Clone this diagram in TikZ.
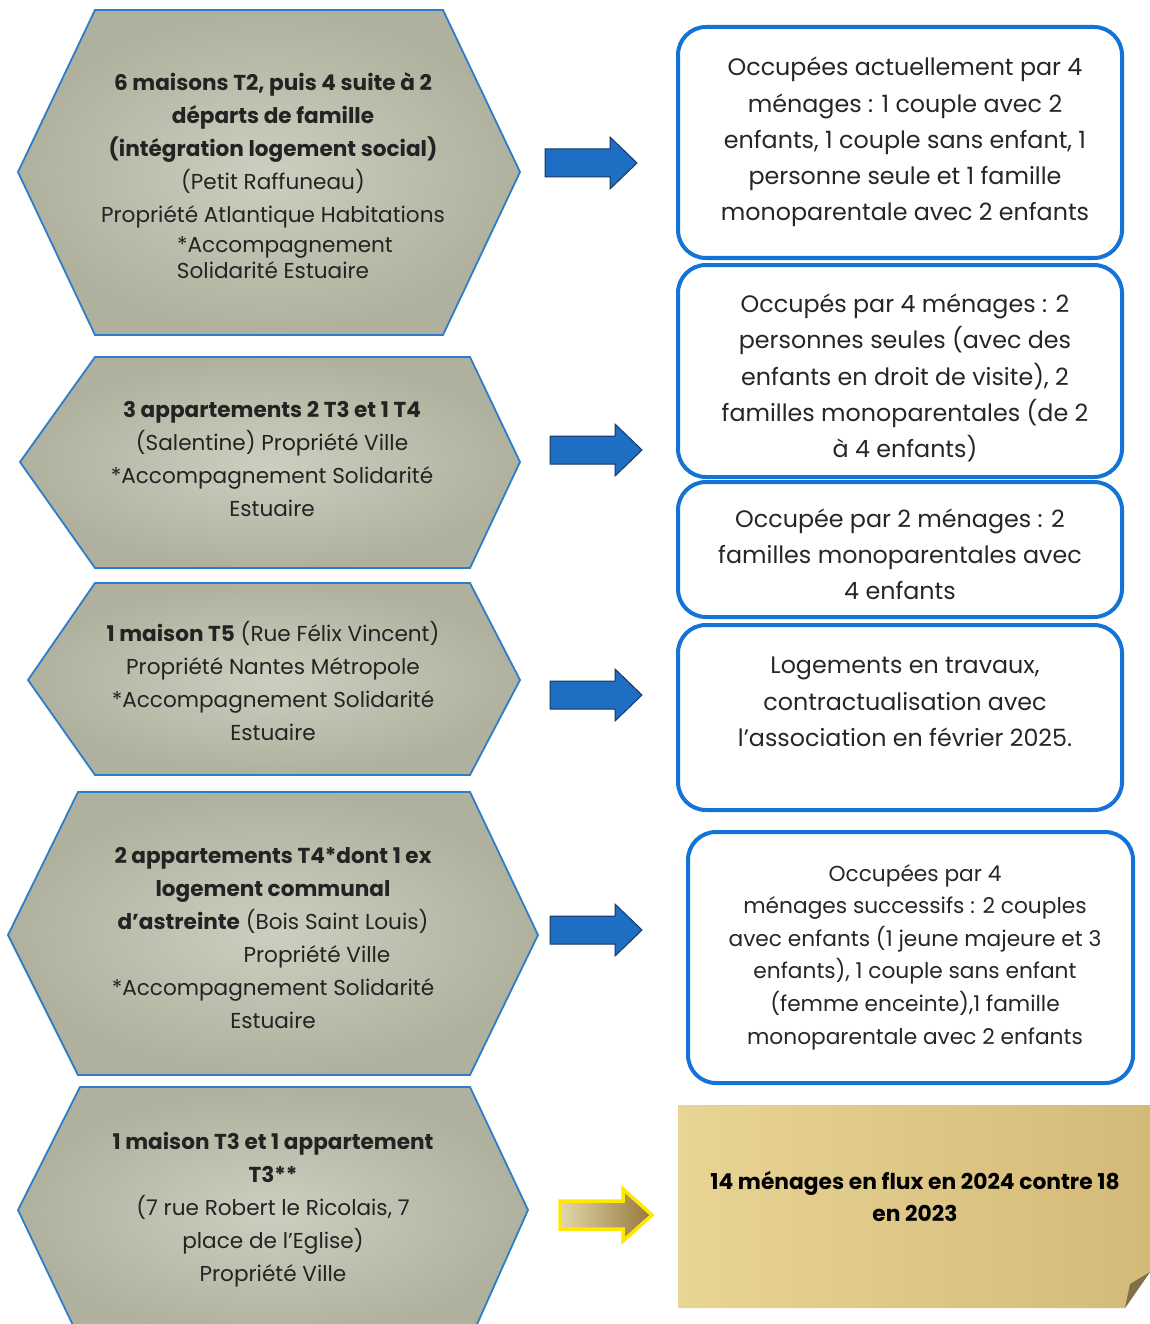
\documentclass[tikz,border=0pt]{standalone}
\usepackage{fontspec}
\setmainfont{Poppins}
\definecolor{hexborder}{RGB}{45,125,200}
\definecolor{hexin}{RGB}{206,206,192}
\definecolor{hexout}{RGB}{176,176,158}
\definecolor{boxborder}{RGB}{20,115,215}
\definecolor{arrowblue}{RGB}{30,110,195}
\definecolor{arrowdark}{RGB}{25,55,95}
\definecolor{goldA}{RGB}{232,212,148}
\definecolor{goldB}{RGB}{212,186,120}
\definecolor{ylw}{RGB}{255,232,0}
\definecolor{brownA}{RGB}{226,216,170}
\definecolor{brownB}{RGB}{150,118,60}
\definecolor{txt}{RGB}{35,35,35}
\tikzset{
  hexshape/.style={draw=hexborder, line width=1.8pt, inner color=hexin, outer color=hexout},
  hextext/.style={align=center, text=txt, font=\fontsize{21.6}{33}\selectfont, inner sep=0pt},
  roundbox/.style={draw=boxborder, line width=4pt, rounded corners=28pt, fill=white},
  boxtext/.style={align=center, text=black!85, font=\fontsize{23.8}{36.2}\selectfont, inner sep=0pt},
  bluearrow/.style={fill=arrowblue, draw=arrowdark, line width=1pt, line join=miter},
  yellowarrow/.style={left color=brownA, right color=brownB, draw=ylw, line width=3.5pt, line join=miter}
}
\newcommand{\blockarrow}[5]{% style, x0, xhead, xtip, y
  \path[#1] (#2,#5-14) -- (#3,#5-14) -- (#3,#5-26) -- (#4,#5) -- (#3,#5+26) -- (#3,#5+14) -- (#2,#5+14) -- cycle;}
\begin{document}
\begin{tikzpicture}[x=1pt,y=-1pt]
\useasboundingbox (0,0) rectangle (1150,1324);
\clip (0,0) rectangle (1150,1324);
\fill[white] (0,0) rectangle (1150,1324);

% ---------- hexagons ----------
\path[hexshape] (95,10) -- (443,10) -- (520,172) -- (443,335) -- (95,335) -- (18,172) -- cycle;
\path[hexshape] (95,357) -- (470,357) -- (520,462) -- (470,568) -- (95,568) -- (20,462) -- cycle;
\path[hexshape] (95,583) -- (470,583) -- (520,680) -- (470,775) -- (95,775) -- (28,680) -- cycle;
\path[hexshape] (78,792) -- (470,792) -- (538,935) -- (470,1075) -- (78,1075) -- (8,935) -- cycle;
\path[hexshape] (80,1087) -- (470,1087) -- (528,1210) -- (470,1340) -- (80,1340) -- (18,1210) -- cycle;

\node[hextext] (h1) at (273,176) {\textbf{6 maisons T2, puis 4 suite à 2}\\ \textbf{départs de famille}\\ \textbf{(intégration logement social)}\\ (Petit Raffuneau)\\ Propriété Atlantique Habitations\\[-3pt] \hspace*{24pt}*Accompagnement\\[-7pt] Solidarité Estuaire};
\node[hextext] (h2) at (272,459) {\textbf{3 appartements 2 T3 et 1 T4}\\ (Salentine) Propriété Ville\\ *Accompagnement Solidarité\\ Estuaire};
\node[hextext] (h3) at (273,681) {\textbf{1 maison T5} (Rue Félix Vincent)\\ Propriété Nantes Métropole\\ *Accompagnement Solidarité\\ Estuaire};
\node[hextext] (h4) at (273,938) {\textbf{2 appartements T4*dont 1 ex}\\ \textbf{logement communal}\\ \textbf{d’astreinte} (Bois Saint Louis)\\ \hspace*{88pt}Propriété Ville\\ *Accompagnement Solidarité\\ Estuaire};
\node[hextext] (h5) at (273,1210) {\textbf{1 maison T3 et 1 appartement}\\ \textbf{T3**}\\ (7 rue Robert le Ricolais, 7\\ place de l’Eglise)\\ Propriété Ville};

% ---------- arrows ----------
\blockarrow{bluearrow}{545}{610}{637}{163}
\blockarrow{bluearrow}{550}{615}{642}{450}
\blockarrow{bluearrow}{550}{615}{642}{695}
\blockarrow{bluearrow}{550}{615}{642}{930}
\blockarrow{yellowarrow}{560}{623}{652}{1215}

% ---------- right boxes ----------
\node[roundbox, minimum width=444, minimum height=231] (b1) at (900,142.5) {};
\node[roundbox, minimum width=444, minimum height=212] (b2) at (900,371) {};
\node[roundbox, minimum width=444, minimum height=135] (b3) at (900,549.5) {};
\node[roundbox, minimum width=444, minimum height=185] (b4) at (900,717.5) {};
\node[roundbox, minimum width=445, minimum height=251] (b5) at (910.5,957.5) {};

\node[boxtext] (t1) at (905,142) {Occupées actuellement par 4\\ ménages : 1 couple avec 2\\ enfants, 1 couple sans enfant, 1\\ personne seule et 1 famille\\ monoparentale avec 2 enfants};
\node[boxtext] (t2) at (905,378) {Occupés par 4 ménages : 2\\ personnes seules (avec des\\ enfants en droit de visite), 2\\ familles monoparentales (de 2\\ à 4 enfants)};
\node[boxtext] (t3) at (900,554) {Occupée par 2 ménages : 2\\ familles monoparentales avec\\ 4 enfants};
\node[boxtext] (t4) at (905,702) {Logements en travaux,\\ contractualisation avec\\ l’association en février 2025.};
\node[boxtext, font=\fontsize{21.7}{32.6}\selectfont] (t5) at (915,957) {Occupées par 4\\ ménages successifs : 2 couples\\ avec enfants (1 jeune majeure et 3\\ enfants), 1 couple sans enfant\\ (femme enceinte),1 famille\\ monoparentale avec 2 enfants};

% ---------- gold note ----------
\shade[left color=goldA, right color=goldB] (678,1105) -- (1150,1105) -- (1150,1272) -- (1125,1308) -- (678,1308) -- cycle;
\fill[goldB!60!black] (1150,1272) -- (1130,1284) -- (1125,1308) -- cycle;
\node[boxtext, font=\fontsize{21.8}{32}\selectfont\bfseries, text=black] (b6) at (915,1196) {14 ménages en flux en 2024 contre 18\\ en 2023};
\end{tikzpicture}
\end{document}
